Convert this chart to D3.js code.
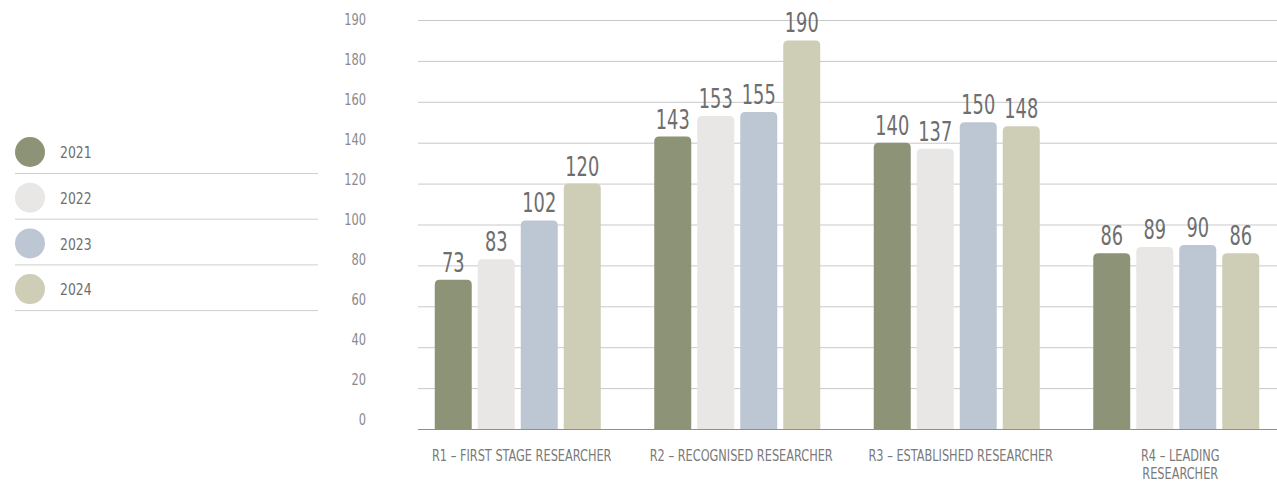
<!DOCTYPE html>
<html>
<head>
<meta charset="utf-8">
<script src="https://cdn.jsdelivr.net/npm/d3@7"></script>
<style>
  body { margin: 0; background: #fff; }
  svg text { font-family: "DejaVu Sans Condensed", "DejaVu Sans", sans-serif; font-stretch: condensed; }
</style>
</head>
<body>
<svg id="chart" width="1277" height="483"></svg>
<script>
var categories = ["R1 – FIRST STAGE RESEARCHER", "R2 – RECOGNISED RESEARCHER", "R3 – ESTABLISHED RESEARCHER", "R4 – LEADING\nRESEARCHER"];
var years = ["2021", "2022", "2023", "2024"];
var v2021 = [73, 143, 140, 86];
var v2022 = [83, 153, 137, 89];
var v2023 = [102, 155, 150, 90];
var v2024 = [120, 190, 148, 86];
var tickValues = [0, 20, 40, 60, 80, 100, 120, 140, 160, 180, 200];
var tickLabels = ["0", "20", "40", "60", "80", "100", "120", "140", "160", "180", "190"];
var colors = ["#8c9377", "#e8e7e5", "#bcc7d3", "#cecdb6"];

var series = [v2021, v2022, v2023, v2024];

var svg = d3.select("#chart");

var y = d3.scaleLinear().domain([0, 200]).range([429, 20]);
// tick labels sit on a slightly tighter spacing than the gridlines
var yLabel = d3.scaleLinear().domain([0, 200]).range([420, 20]);

var x0 = d3.scaleBand().domain(d3.range(categories.length)).range([408, 1286]);
var x1 = d3.scaleBand().domain(d3.range(years.length)).range([0, 166]).paddingInner(0.14);

// squeeze text horizontally to mimic the narrow face of the original
function squeeze(sel, k) {
  sel.each(function() {
    var len = this.getComputedTextLength();
    if (len > 0) {
      d3.select(this).attr("textLength", len * k).attr("lengthAdjust", "spacingAndGlyphs");
    }
  });
}

// gridlines
svg.append("g").selectAll("line")
  .data(tickValues.slice(1))
  .enter().append("line")
  .attr("x1", 418).attr("x2", 1277)
  .attr("y1", function(d) { return y(d) + 0.5; })
  .attr("y2", function(d) { return y(d) + 0.5; })
  .attr("stroke", "#c9c9c9")
  .attr("stroke-width", 1);

// tick labels
svg.append("g").selectAll("text")
  .data(tickValues)
  .enter().append("text")
  .attr("x", 366)
  .attr("y", function(d) { return yLabel(d); })
  .attr("dy", "0.35em")
  .attr("text-anchor", "end")
  .attr("fill", "#8a8a8a")
  .style("font-size", "15.5px")
  .text(function(d, i) { return tickLabels[i]; })
  .call(squeeze, 0.82);

// bars
var groups = svg.append("g").selectAll("g")
  .data(categories)
  .enter().append("g")
  .attr("transform", function(d, i) {
    return "translate(" + (x0(i) + (x0.bandwidth() - 166) / 2) + ",0)";
  });

function topRounded(x, yTop, w, h, r) {
  return "M" + x + "," + (yTop + h) +
    "V" + (yTop + r) +
    "Q" + x + "," + yTop + " " + (x + r) + "," + yTop +
    "H" + (x + w - r) +
    "Q" + (x + w) + "," + yTop + " " + (x + w) + "," + (yTop + r) +
    "V" + (yTop + h) + "Z";
}

groups.each(function(c, ci) {
  var g = d3.select(this);
  var vals = series.map(function(s) { return s[ci]; });
  g.selectAll("path")
    .data(vals)
    .enter().append("path")
    .attr("d", function(d, i) {
      return topRounded(x1(i), y(d), x1.bandwidth(), y(0) - y(d), 5);
    })
    .attr("fill", function(d, i) { return colors[i]; });
  g.selectAll("text.val")
    .data(vals)
    .enter().append("text")
    .attr("class", "val")
    .attr("x", function(d, i) { return x1(i) + x1.bandwidth() / 2; })
    .attr("y", function(d) { return y(d) - 8; })
    .attr("text-anchor", "middle")
    .attr("fill", "#6e6e6e")
    .style("font-size", "26px")
    .text(function(d) { return d; })
    .call(squeeze, 0.76);
});

// baseline
svg.append("line")
  .attr("x1", 418).attr("x2", 1277)
  .attr("y1", y(0) + 0.5).attr("y2", y(0) + 0.5)
  .attr("stroke", "#8f8f8f")
  .attr("stroke-width", 1.2);

// category labels
svg.append("g").selectAll("text")
  .data(categories)
  .enter().append("text")
  .attr("x", function(d, i) { return x0(i) + x0.bandwidth() / 2 + 4; })
  .attr("y", 461)
  .attr("text-anchor", "middle")
  .attr("fill", "#7a7a7a")
  .style("font-size", "15px")
  .each(function(d) {
    var t = d3.select(this);
    d.split("\n").forEach(function(line, k) {
      t.append("tspan")
        .attr("x", t.attr("x"))
        .attr("dy", k === 0 ? 0 : 18)
        .text(line);
    });
  })
  .selectAll("tspan").call(squeeze, 0.84);

// legend
var legend = svg.append("g").selectAll("g")
  .data(years)
  .enter().append("g")
  .attr("transform", function(d, i) { return "translate(0," + (152 + i * 45.7) + ")"; });

legend.append("circle")
  .attr("cx", 30).attr("cy", 0).attr("r", 15)
  .attr("fill", function(d, i) { return colors[i]; });

legend.append("text")
  .attr("x", 60).attr("y", 1)
  .attr("dy", "0.35em")
  .attr("fill", "#6e6e6e")
  .style("font-size", "15px")
  .text(function(d) { return d; })
  .call(squeeze, 0.92);

legend.append("line")
  .attr("x1", 15).attr("x2", 318)
  .attr("y1", 21.5).attr("y2", 21.5)
  .attr("stroke", "#cfcfcf")
  .attr("stroke-width", 1);
</script>
</body>
</html>
